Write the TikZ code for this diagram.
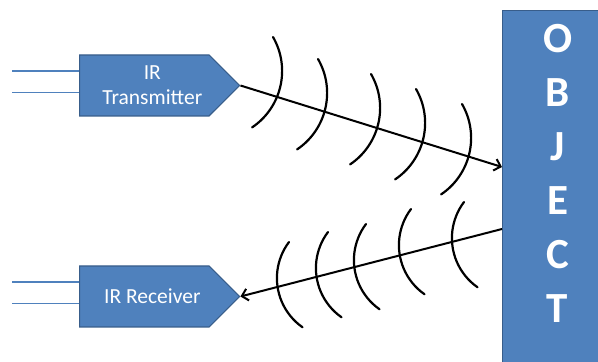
\documentclass[tikz,border=0pt]{standalone}
\usepackage{fontspec}
\setmainfont{Carlito}
\usetikzlibrary{arrows.meta, shapes.symbols}
\definecolor{boxblue}{HTML}{4F81BD}
\definecolor{boxedge}{HTML}{385D8A}

\tikzset{
    unit/.style={signal, signal to=east, signal from=nowhere, signal pointer angle=90,
        fill=boxblue, draw=boxedge, line width=1.2pt, text=white, align=center,
        font=\fontsize{21.5}{25}\selectfont, minimum width=160pt, minimum height=61pt, inner sep=0pt},
    object/.style={rectangle, fill=boxblue, draw=boxedge, line width=1.2pt, text=white, align=center,
        font=\fontsize{43}{54}\selectfont\bfseries, minimum width=110pt, minimum height=380pt, text depth=54pt},
    wire/.style={draw=boxblue, line width=1.5pt},
    wave/.style={line width=2.2pt, line cap=round},
    beam/.style={line width=2pt, -{Straight Barb[length=6pt,width=12pt]}}
}

\begin{document}
\begin{tikzpicture}[x=1pt, y=1pt]
    \useasboundingbox (0,0) rectangle (598,362);

    \node[unit, anchor=west] (tx) at (79, 276.5) {\hspace*{16pt}IR\\\hspace*{16pt}Transmitter};
    \node[unit, anchor=west] (rx) at (79, 65.5) {\hspace*{16pt}IR Receiver};
    \node[object, anchor=north west] (obj) at (502, 352) {O\\B\\J\\E\\C\\T};

    \draw[wire] ([yshift=14.5pt]tx.west) -- ++(-67,0);
    \draw[wire] ([yshift=-7pt]tx.west) -- ++(-67,0);
    \draw[wire] ([yshift=14.5pt]rx.west) -- ++(-67,0);
    \draw[wire] ([yshift=-7pt]rx.west) -- ++(-67,0);

    % outgoing waves
    \draw[wave] (273,325) arc[start angle=30, end angle=-56, radius=68];
    \draw[wave] (318,303) arc[start angle=30, end angle=-56, radius=68];
    \draw[wave] (371,288) arc[start angle=30, end angle=-56, radius=68];
    \draw[wave] (416,273) arc[start angle=30, end angle=-56, radius=68];
    \draw[wave] (462,258) arc[start angle=30, end angle=-56, radius=68];

    % reflected waves
    \draw[wave] (289,120) arc[start angle=143, end angle=235, radius=60];
    \draw[wave] (328,130) arc[start angle=143, end angle=235, radius=60];
    \draw[wave] (366,138) arc[start angle=143, end angle=235, radius=60];
    \draw[wave] (411,153) arc[start angle=143, end angle=235, radius=60];
    \draw[wave] (464,160) arc[start angle=143, end angle=235, radius=60];

    \draw[beam] (tx.east) -- ([yshift=-157pt]obj.north west);
    \draw[beam] ([yshift=-219pt]obj.north west) -- (rx.east);
\end{tikzpicture}
\end{document}
